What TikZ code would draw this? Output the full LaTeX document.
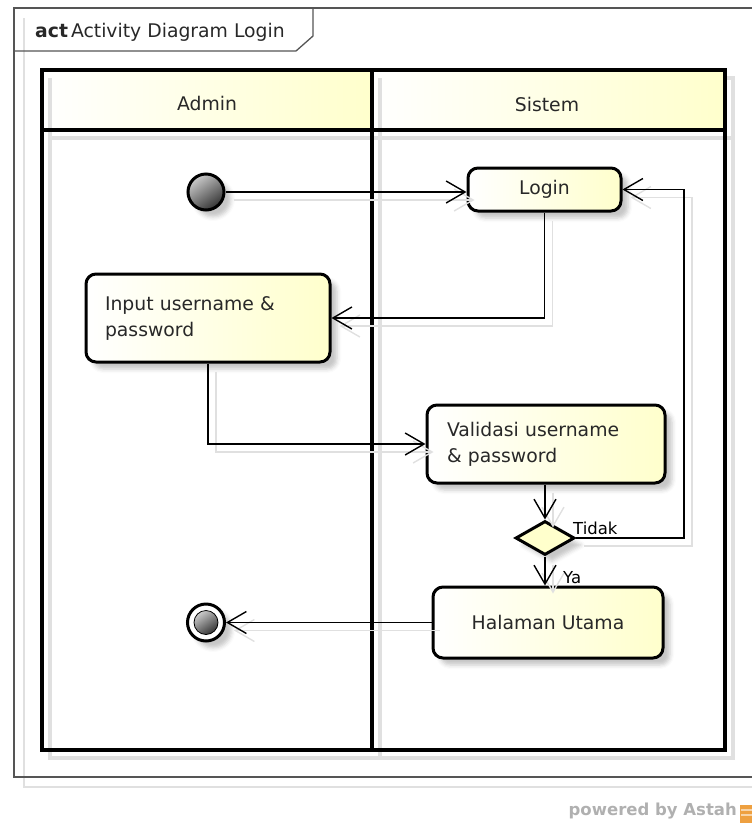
\documentclass[tikz,border=0pt]{standalone}
\usepackage{fontspec}
\setmainfont{DejaVu Sans}
\usetikzlibrary{arrows.meta,shapes.geometric,shadows.blur,calc}

\definecolor{lemon}{RGB}{255,255,204}
\definecolor{framegray}{RGB}{85,85,85}
\definecolor{ghost}{RGB}{224,224,224}
\definecolor{brand}{RGB}{176,176,176}
\definecolor{brandorange}{RGB}{238,160,64}
\definecolor{ink}{RGB}{40,40,40}

\newcommand\diafont{\fontsize{18.8}{26}\selectfont}
\newcommand\labfont{\fontsize{16.5}{20}\selectfont}

\tikzset{
  lane/.style={line width=3.2pt, draw=black},
  laneghost/.style={line width=3.2pt, draw=ghost},
  softshadow/.style={blur shadow={shadow xshift=7pt, shadow yshift=-7pt,
      shadow blur radius=4pt, shadow opacity=22}},
  action/.style={draw=black, line width=3pt, rounded corners=10pt,
      left color=white, right color=lemon, softshadow,
      inner sep=0pt, font=\diafont, text=ink},
  decision/.style={diamond, draw=black, line width=3pt, fill=lemon,
      softshadow, inner sep=0pt, minimum width=59pt, minimum height=34pt,
      aspect=1.7},
  startnode/.style={circle, draw=black, line width=3pt, minimum size=36pt,
      inner sep=0pt, top color=gray!40, bottom color=black!80,
      shading angle=35, softshadow},
  flow/.style={draw=black, line width=1.4pt,
      -{Straight Barb[length=19pt, width=22pt, line width=1.4pt]},
      preaction={draw=ghost, line width=1.3pt,
        transform canvas={shift={(8,8)}}}},
  flowlabel/.style={font=\labfont, inner sep=0pt, anchor=base west}
}

\begin{document}
\begin{tikzpicture}[x=1pt, y=-1pt]
\useasboundingbox (0,0) rectangle (752,823);

% ---- activity frame with its name tab ----
\draw[ghost, line width=1.3pt] (24,18) -- (24,787) -- (752,787);
\draw[framegray, line width=1.3pt] (752,8) -- (14,8) -- (14,777) -- (752,777);
\draw[framegray, line width=1.3pt] (14,51) -- (296,51) -- (313,36) -- (313,8);
\node[anchor=base west, inner sep=0pt, font=\diafont, text=ink] (title)
  at (35,37) {\textbf{act}\kern3pt Activity Diagram Login};

% ---- swimlanes ----
\shade[left color=white, right color=lemon] (42,70) rectangle (372,130);
\shade[left color=white, right color=lemon] (372,70) rectangle (725,130);
\draw[laneghost] (725,78) -- (733,78) -- (733,758) -- (50,758) -- (50,78);
\draw[laneghost] (50,138) -- (733,138);
\draw[laneghost] (380,78) -- (380,758);
\draw[lane] (42,70) rectangle (725,750);
\draw[lane] (42,130) -- (725,130);
\draw[lane] (372,70) -- (372,750);
\node[font=\diafont, text=ink, inner sep=0pt, anchor=base] (admin)
  at (207,110) {Admin};
\node[font=\diafont, text=ink, inner sep=0pt, anchor=base] (sistem)
  at (547,111) {Sistem};

% ---- activity nodes ----
\node[startnode] (init) at (206,192) {};
\node[action, minimum width=153pt, minimum height=43pt] (login)
  at (544.5,189.5) {Login};
\node[action, minimum width=244pt, minimum height=88pt, text width=206pt,
  align=left] (input) at (208,318) {Input username \&\\password};
\node[action, minimum width=238pt, minimum height=78pt, text width=198pt,
  align=left] (valid) at (546,444) {Validasi username\\\& password};
\node[decision] (dec) at (545,538) {};
\node[action, minimum width=230pt, minimum height=71pt] (home)
  at (548,622.5) {Halaman Utama};
\node[circle, draw=black, line width=3pt, minimum size=37pt, inner sep=0pt,
  fill=white, softshadow] (final) at (206,622.5) {};
\node[circle, draw=black, line width=0.8pt, minimum size=24pt, inner sep=0pt,
  top color=gray!40, bottom color=black!80, shading angle=35] (finalcore)
  at (final.center) {};

% ---- control flows ----
\coordinate (loopx) at (684,0);
\draw[flow] (init.east) -- (init.east -| login.west);
\draw[flow] (login.south) |- (input.east);
\draw[flow] (input.south) |- (valid.west);
\draw[flow] (dec.north |- valid.south) -- (dec.north);
\draw[flow] (dec.east) -- (dec.east -| loopx) -- (login.east -| loopx) -- (login.east);
\draw[flow] (dec.south) -- (dec.south |- home.north);
\draw[flow] (home.west) -- (final.east);

\node[flowlabel] (tidak) at (573,534) {Tidak};
\node[flowlabel] (ya) at (563,583) {Ya};

% ---- tool signature ----
\node[anchor=base east, inner sep=0pt, text=brand,
  font=\fontsize{16.5}{20}\selectfont\bfseries] (sig) at (737,815)
  {powered by Astah};
\fill[brandorange] (740,805) rectangle (752,823);
\fill[brandorange!45] (741,809) rectangle (752,811);
\fill[brandorange!45] (741,814) rectangle (752,816);
\end{tikzpicture}
\end{document}
